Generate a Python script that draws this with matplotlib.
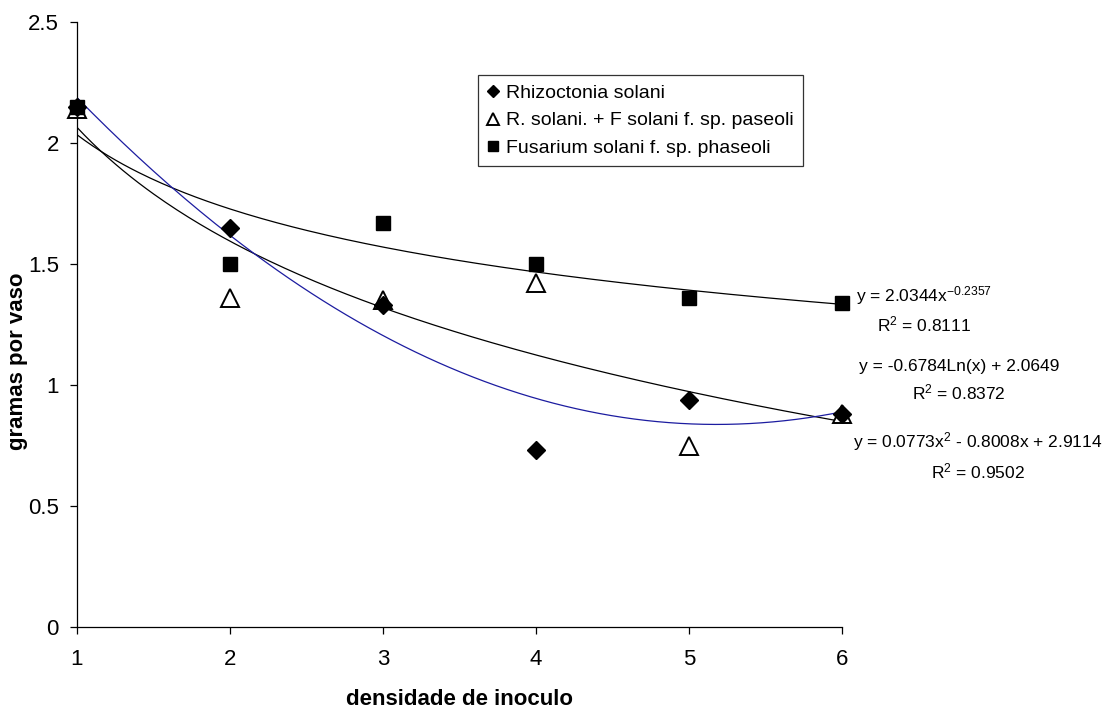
import matplotlib
matplotlib.use('Agg')
import matplotlib.pyplot as plt
import numpy as np
from matplotlib.ticker import FormatStrFormatter

plt.rcParams['font.family'] = 'Liberation Sans'
plt.rcParams['mathtext.fontset'] = 'custom'
plt.rcParams['mathtext.rm'] = 'Liberation Sans'
plt.rcParams['mathtext.it'] = 'Liberation Sans:italic'
plt.rcParams['mathtext.default'] = 'rm'

# dados
densidade = [1, 2, 3, 4, 5, 6]
rhizoctonia = [2.15, 1.65, 1.33, 0.73, 0.94, 0.88]
mistura = [2.14, 1.36, 1.35, 1.42, 0.75, 0.88]
fusarium = [2.15, 1.50, 1.67, 1.50, 1.36, 1.34]

nomes = ['Rhizoctonia solani',
         'R. solani. + F solani f. sp. paseoli',
         'Fusarium solani f. sp. phaseoli']

# coeficientes das linhas de tendencia (do texto das equacoes)
pot_coef = [2.0344, -0.2357]            # y = a*x^b
log_coef = [-0.6784, 2.0649]            # y = a*ln(x) + b
poli_coef = [0.0773, -0.8008, 2.9114]   # y = a*x^2 + b*x + c

eqs = ['y = 2.0344x$^{-0.2357}$\nR$^2$ = 0.8111',
       'y = -0.6784Ln(x) + 2.0649\nR$^2$ = 0.8372',
       'y = 0.0773x$^2$ - 0.8008x + 2.9114\nR$^2$ = 0.9502']

fig = plt.figure(figsize=(11.03, 7.11), dpi=100)
ax = fig.add_axes([0.0698, 0.118, 0.6935, 0.851])

xx = np.linspace(1, 6, 200)
ax.plot(xx, pot_coef[0] * xx ** pot_coef[1], color='black', lw=0.9, zorder=2)
ax.plot(xx, log_coef[0] * np.log(xx) + log_coef[1], color='black', lw=0.9, zorder=2)
ax.plot(xx, np.polyval(poli_coef, xx), color='#1c1ca0', lw=0.9, zorder=2)

ax.plot(densidade, rhizoctonia, 'D', color='black', ms=9, ls='none',
        label=nomes[0], zorder=4, clip_on=False)
ax.plot(densidade, mistura, '^', mfc='white', mec='black', mew=1.4, ms=12.5,
        ls='none', label=nomes[1], zorder=3, clip_on=False)
ax.plot(densidade, fusarium, 's', color='black', ms=10.5, ls='none',
        label=nomes[2], zorder=5, clip_on=False)

ax.set_xlim(1, 6)
ax.set_ylim(0, 2.5)
ax.set_xticks(densidade)
ax.set_yticks([0, 0.5, 1, 1.5, 2, 2.5])
ax.yaxis.set_major_formatter(FormatStrFormatter('%g'))
ax.tick_params(axis='both', direction='out', length=5, width=0.9, labelsize=16)
ax.tick_params(axis='x', pad=11)
ax.tick_params(axis='y', pad=8)

for s in ['top', 'right']:
    ax.spines[s].set_visible(False)
for s in ['left', 'bottom']:
    ax.spines[s].set_linewidth(0.9)

ax.set_xlabel('densidade de inoculo', fontsize=16, fontweight='bold', va='baseline')
ax.xaxis.set_label_coords(0.5, -0.128)
ax.set_ylabel('gramas por vaso', fontsize=16, fontweight='bold', va='center')
ax.yaxis.set_label_coords(-0.078, 0.44)

leg = ax.legend(loc='upper left', bbox_to_anchor=(0.524, 0.912), borderaxespad=0,
                fontsize=14, frameon=True, fancybox=False, edgecolor='black',
                handlelength=0.65, handletextpad=0.35, borderpad=0.45,
                labelspacing=0.52, markerscale=0.72)
leg.get_frame().set_linewidth(0.9)

eq_x = [6.536, 6.765, 6.889]
eq_y = [1.315, 1.018, 0.708]
for ex, ey, t in zip(eq_x, eq_y, eqs):
    ax.text(ex, ey, t, ha='center', va='center', multialignment='center',
            fontsize=12.5, linespacing=1.45, clip_on=False)

fig.savefig('out.png', dpi=100)
